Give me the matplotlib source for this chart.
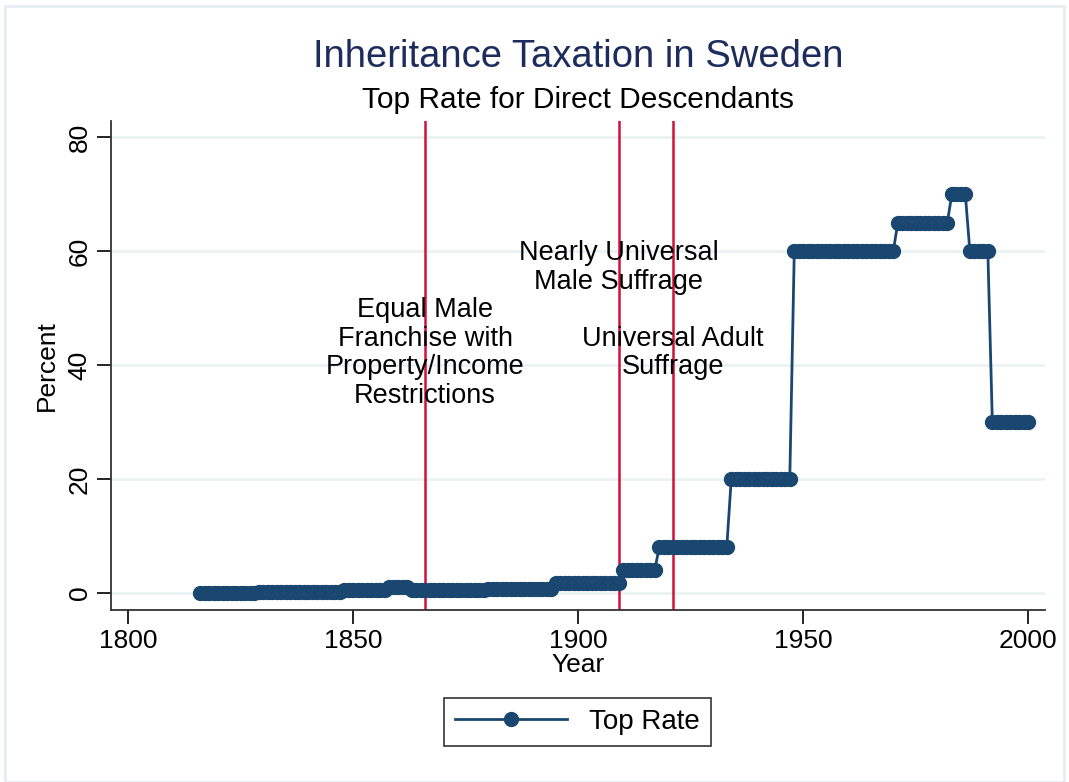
import matplotlib
matplotlib.use("Agg")
import matplotlib.pyplot as plt
from matplotlib.patches import Rectangle

plt.rcParams['font.family'] = ['Liberation Sans', 'DejaVu Sans']

# ---- data ----
# step segments: (first year, last year, top rate %)
seg_start = [1816, 1829, 1848, 1858, 1863, 1880, 1895, 1910, 1918, 1934, 1948, 1971, 1983, 1987, 1992]
seg_end   = [1828, 1847, 1857, 1862, 1879, 1894, 1909, 1917, 1933, 1947, 1970, 1982, 1986, 1991, 2000]
seg_rate  = [0.0, 0.2, 0.5, 1.0, 0.4, 0.6, 1.7, 4.0, 8.0, 20.0, 60.0, 65.0, 70.0, 60.0, 30.0]

years = []
rates = []
for s, e, r in zip(seg_start, seg_end, seg_rate):
    for y in range(s, e + 1):
        years.append(y)
        rates.append(r)

event_years = [1866, 1909, 1921]
event_labels = ["Equal Male\nFranchise with\nProperty/Income\nRestrictions",
                "Nearly Universal\nMale Suffrage",
                "Universal Adult\nSuffrage"]
event_label_y = [42.1, 57.1, 42.1]

xticks = [1800, 1850, 1900, 1950, 2000]
yticks = [0, 20, 40, 60, 80]

title = "Inheritance Taxation in Sweden"
subtitle = "Top Rate for Direct Descendants"

navy = "#1a476f"
red = "#d0103a"

fig = plt.figure(figsize=(10.69, 7.82), dpi=100)
fig.patch.set_facecolor("white")
ax = fig.add_axes([111/1069, 1 - 610/782, (1045 - 111)/1069, (610 - 120.7)/782])

for yt in yticks:
    ax.axhline(yt, color="#eaf2f3", lw=2.0, zorder=0)

for ex in event_years:
    ax.axvline(ex, color=red, lw=1.8, zorder=1)

ax.plot(years, rates, color=navy, lw=2.0, marker='o', markersize=10,
        markerfacecolor=navy, markeredgecolor=navy, zorder=3, label="Top Rate")

for ex, lab, ly in zip(event_years, event_labels, event_label_y):
    ax.text(ex, ly, lab, ha='center', va='center', multialignment='center',
            fontsize=19.5, linespacing=1.12, color='black', zorder=4)

ax.set_xlim(1796.2, 2003.7)
ax.set_ylim(-3.04, 82.9)
ax.set_xticks(xticks)
ax.set_yticks(yticks)
ax.set_xticklabels([str(t) for t in xticks], fontsize=19)
ax.set_yticklabels([str(t) for t in yticks], fontsize=19, rotation=90, va='center')
ax.tick_params(axis='both', direction='out', length=10, width=1.2, colors='black')
ax.tick_params(axis='x', pad=4)
ax.tick_params(axis='y', pad=4)

for side in ['top', 'right']:
    ax.spines[side].set_visible(False)
for side in ['left', 'bottom']:
    ax.spines[side].set_linewidth(1.3)
    ax.spines[side].set_color('#333333')

ax.set_xlabel("Year", fontsize=19, labelpad=0)
ax.set_ylabel("Percent", fontsize=19, labelpad=6)

fig.text(578/1069, 1 - 57/782, title, ha='center', va='center', fontsize=27.5, color="#1c2c5c")
fig.text(578/1069, 1 - 100/782, subtitle, ha='center', va='center', fontsize=21.5, color='black')

leg = fig.legend(loc='center', bbox_to_anchor=(577.5/1069, 1 - 722/782), fontsize=20,
                 frameon=True, fancybox=False, edgecolor='black', handlelength=4.0,
                 borderpad=0.4, handletextpad=0.8, borderaxespad=0)
leg.get_frame().set_linewidth(1.2)

fig.patches.append(Rectangle((5/1069, 0), 1 - 10/1069, 1 - 6/782, transform=fig.transFigure,
                             fill=False, edgecolor="#e6edf2", lw=2.0, zorder=-1))

fig.savefig("out.png", dpi=100, facecolor="white")
